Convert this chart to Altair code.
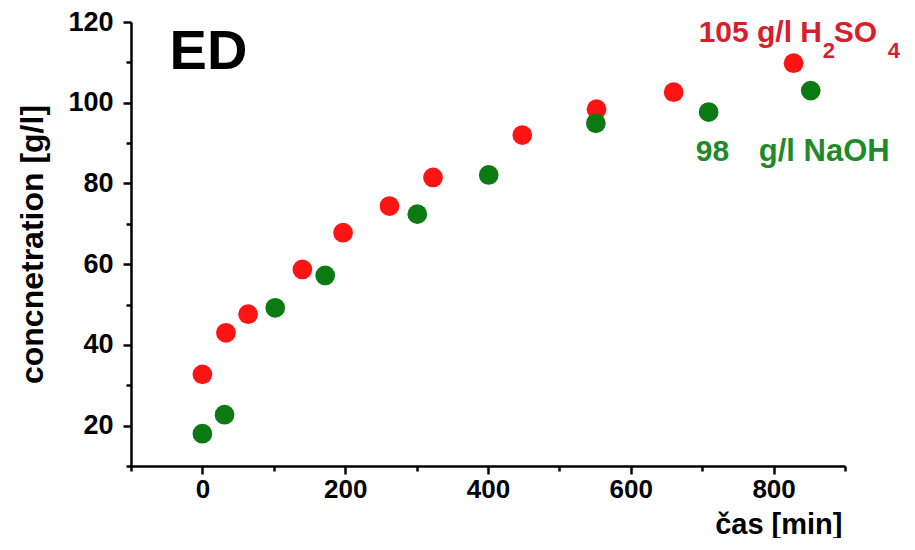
import altair as alt
import pandas as pd

# ---- data ----
time_h2so4 = [0, 33, 64, 140, 197, 262, 323, 448, 552, 660, 828]
conc_h2so4 = [32.7, 43.0, 47.6, 58.7, 67.8, 74.4, 81.5, 92.0, 98.4, 102.6, 109.8]
time_naoh = [0, 31, 102, 172, 301, 401, 551, 709, 852]
conc_naoh = [18.0, 22.7, 49.2, 57.2, 72.4, 82.1, 94.9, 97.7, 103.0]

x_ticks = list(range(-100, 901, 100))
y_ticks = list(range(10, 121, 10))
x_domain = [-100, 900]
y_domain = [10, 120]

label_ed = ["ED"]
label_acid = ["105 g/l H", "2", "SO", "4"]
label_base = ["98", "g/l NaOH"]

RED = "#FF1414"
GREEN = "#0B7A12"
RED_TXT = "#D8202C"
GREEN_TXT = "#1E8A28"
FONT = "Liberation Sans"

df_acid = pd.DataFrame({"t": time_h2so4, "c": conc_h2so4})
df_base = pd.DataFrame({"t": time_naoh, "c": conc_naoh})

x_scale = alt.Scale(domain=x_domain, nice=False, zero=False)
y_scale = alt.Scale(domain=y_domain, nice=False, zero=False)

x_axis = alt.Axis(
    values=x_ticks,
    labelExpr="datum.value % 200 === 0 ? datum.label : ''",
    tickSize={"condition": {"test": "datum.value % 200 === 0", "value": 8}, "value": 5},
    labelPadding=2,
    labelFontSize=26,
    title="čas [min]",
    titleX=711,
    titleY=67,
    titleAlign="right",
    titleAnchor="end",
    titleBaseline="alphabetic",
    titleFontSize=29,
    grid=False,
)
y_axis = alt.Axis(
    values=y_ticks,
    labelExpr="datum.value % 20 === 0 ? datum.label : ''",
    tickSize={"condition": {"test": "datum.value % 20 === 0", "value": 8}, "value": 5},
    labelPadding=10,
    labelFontSize=27,
    title="concnetration [g/l]",
    titleX=-89,
    titleY=222,
    titleAlign="center",
    titleAnchor="middle",
    titleBaseline="alphabetic",
    titleFontSize=32,
    grid=False,
)

acid_pts = alt.Chart(df_acid).mark_circle(size=390, opacity=1, color=RED).encode(
    x=alt.X("t:Q", scale=x_scale, axis=x_axis),
    y=alt.Y("c:Q", scale=y_scale, axis=y_axis),
)
base_pts = alt.Chart(df_base).mark_circle(size=390, opacity=1, color=GREEN).encode(
    x=alt.X("t:Q", scale=x_scale, axis=x_axis),
    y=alt.Y("c:Q", scale=y_scale, axis=y_axis),
)


def txt(label, tx, cy, size, color, dx=0, dy=0):
    d = pd.DataFrame({"t": [tx], "c": [cy], "s": [label]})
    return alt.Chart(d).mark_text(
        align="left", baseline="alphabetic", font=FONT, fontWeight="bold",
        fontSize=size, color=color, dx=dx, dy=dy,
    ).encode(
        x=alt.X("t:Q", scale=x_scale, axis=x_axis),
        y=alt.Y("c:Q", scale=y_scale, axis=y_axis),
        text="s:N",
    )


ed = txt(label_ed[0], -46, 108.3, 56, "black")
acid_lbl = [
    txt(label_acid[0], 695, 115.0, 30, RED_TXT),
    txt(label_acid[1], 695, 115.0, 22, RED_TXT, dx=124, dy=16),
    txt(label_acid[2], 695, 115.0, 30, RED_TXT, dx=135),
    txt(label_acid[3], 695, 115.0, 22, RED_TXT, dx=189, dy=16),
]
base_lbl = [
    txt(label_base[0], 691, 85.6, 30, GREEN_TXT),
    txt(label_base[1], 691, 85.6, 31, GREEN_TXT, dx=63),
]

chart = alt.layer(acid_pts, base_pts, ed, *acid_lbl, *base_lbl).properties(
    width=714,
    height=444,
    background="white",
    autosize=alt.AutoSizeParams(type="none"),
    padding={"left": 123, "top": 14, "right": 60, "bottom": 72},
).configure_view(stroke=None).configure_axis(
    domainColor="black",
    domainWidth=2.5,
    tickColor="black",
    tickWidth=2.5,
    grid=False,
    labelFont=FONT,
    labelFontWeight="bold",
    labelColor="black",
    labelOverlap=False,
    labelFlush=False,
    titleFont=FONT,
    titleFontWeight="bold",
    titleColor="black",
)

chart.save("out.html", embed_options={"renderer": "svg", "actions": False})
